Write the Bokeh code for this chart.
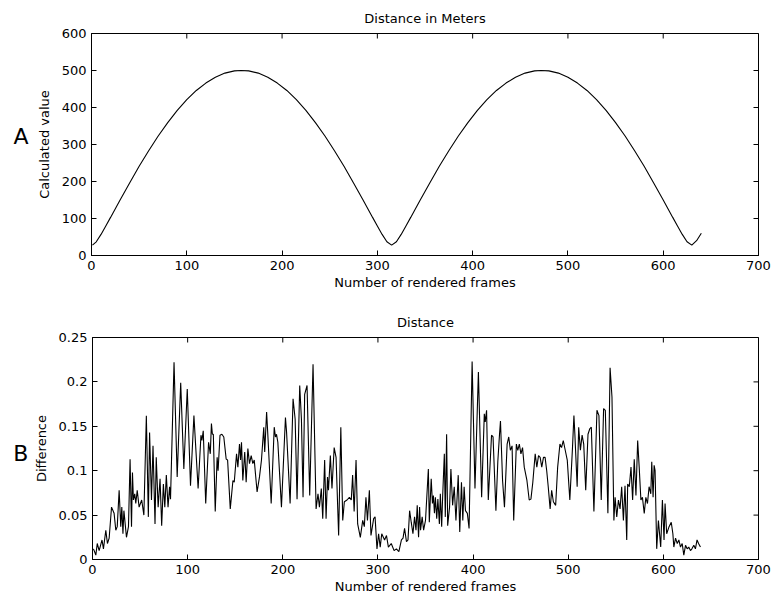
import math
from bokeh.plotting import figure
from bokeh.layouts import column, row
from bokeh.models import Range1d, FixedTicker, Label, CustomJSTickFormatter
from bokeh.embed import file_html
from bokeh.resources import INLINE

# ---- Panel A: Distance in Meters ----
dist_frames = [1, 5, 10, 15, 20, 30, 40, 50, 60, 70, 80, 90, 100, 110, 120, 130, 140, 150, 157,
               165, 175, 185, 195, 205, 215, 225, 235, 245, 255, 265, 275, 285, 295, 300, 305, 310,
               315, 320, 325, 330, 335, 345, 355, 365, 375, 385, 395, 405, 415, 425, 435, 445, 455,
               465, 472, 480, 490, 500, 510, 520, 530, 540, 550, 560, 570, 580, 590, 600, 610, 615,
               620, 625, 630, 635, 640]
dist_values = [28, 37, 57, 80, 103, 150, 196, 241, 283, 323, 359, 392, 421, 446, 466, 482, 493, 499, 500,
               499, 493, 482, 466, 446, 421, 392, 359, 323, 283, 241, 196, 150, 103, 80, 57, 37,
               28, 37, 57, 80, 103, 150, 196, 241, 283, 323, 359, 392, 421, 446, 466, 482, 493,
               499, 500, 499, 493, 482, 466, 446, 421, 392, 359, 323, 283, 241, 196, 150, 103, 80,
               57, 37, 28, 40, 60]

# ---- Panel B: Distance difference ----
diff_frames = [1, 3.5, 5, 7, 10, 11.5, 14, 15.7, 17.5, 20, 22.7, 24.5, 26, 28, 29.7, 30.8, 32, 33, 34,
               35.7, 37.8, 39.5, 41, 42, 43, 44.4, 45.5, 47, 49, 51.7, 54, 56.6, 58.7, 60, 62, 63.6,
               65.7, 67, 69, 71, 72.7, 74.5, 76, 77.6, 79.4, 81, 82, 85.7, 89, 92.7, 96, 99.6, 103,
               106.6, 111, 114, 115, 116.4, 119, 122, 123.8, 125, 126, 127, 129, 131, 132, 134, 136,
               138, 140.5, 142, 144.8, 147.6, 149, 151.4, 152.8, 154.5, 155.6, 156.6, 158, 160, 161.5,
               163.3, 165, 166.8, 168.5, 170, 173, 175.5, 177.6, 180, 181, 183, 184.6, 187.8, 191,
               192.3, 193.4, 194.8, 198.6, 202.8, 204, 207.7, 210.8, 213, 215, 217.8, 219.6, 221.3,
               223, 225.5, 228.3, 231.8, 235, 237, 238.5, 240.5, 242, 244, 245.5, 247, 248, 250,
               251.7, 254, 256, 258.7, 261, 263, 264.7, 267.5, 270, 272, 273.4, 275, 277, 278.7,
               281.5, 284, 285.7, 287.4, 289, 291, 292.7, 295.5, 297, 299, 300.7, 302.4,
               304, 307, 309, 311, 314, 317, 319.4, 322, 324.7, 326.4, 328, 330, 331.6, 333.3, 335,
               336.8, 338.5, 340, 341.3, 342.7, 343.8, 344.8, 346.5, 348, 350, 353, 354, 356, 357.3,
               358.3, 359.4, 360.4, 361.8, 363, 364.6, 365.6, 367, 368, 369.8, 370.8, 372.2, 373.3,
               375.3, 376.7, 378.5, 380.2, 382, 384.4, 386, 387.8, 389.2, 390.6, 392, 394, 395.8,
               399, 402, 405.6, 409, 411.8, 412.8, 414.2, 416, 419.4, 421, 424, 426, 427.8, 428.8,
               431, 433, 435.8, 437.5, 439.2, 441, 442.7, 445.5, 447, 448.6, 450.3, 452, 453.8,
               456.6, 459, 460.8, 462.8, 465.3, 467, 468.8, 470.5, 472.2, 474, 475.7, 477.4, 479,
               481, 482.6, 484.4, 486.8, 488.9, 491.3, 493, 494.8, 496.5, 499, 501.7, 504.5, 506,
               507, 509.4, 511, 512.8, 514.6, 516.3, 518.4, 520.8, 522.6, 524.3, 527, 530.2, 532.3,
               534.7, 537.2, 539, 541.7, 544, 546, 548, 549.3, 551, 552.8, 554.5, 556.2, 558, 559.7,
               561.5, 562.5, 564.2, 566, 567.7, 569.4, 571.2, 573, 574.6, 576.4, 578, 579.9, 581.6,
               583.3, 585, 586.8, 587.8, 589.2, 590.3, 591.3, 593, 594.8, 597.2, 599, 600.7, 601.8,
               603.5, 606, 608.3, 610, 611, 612.8, 614.6, 616.3, 618, 619.8, 621.5, 623.3, 625,
               626.7, 628.5, 630, 632, 633.7, 635.4, 637, 639]
diff_values = [0.012, 0.005, 0.018, 0.010, 0.022, 0.012, 0.033, 0.018, 0.024, 0.059, 0.052, 0.033, 0.037,
               0.078, 0.037, 0.059, 0.029, 0.055, 0.044, 0.025, 0.037, 0.113, 0.037, 0.098, 0.067,
               0.074, 0.063, 0.078, 0.059, 0.067, 0.050, 0.162, 0.048, 0.143, 0.067, 0.128, 0.040,
               0.115, 0.059, 0.091, 0.038, 0.085, 0.059, 0.095, 0.059, 0.082, 0.068, 0.222, 0.093,
               0.199, 0.102, 0.192, 0.083, 0.162, 0.080, 0.140, 0.134, 0.145, 0.063, 0.132, 0.119,
               0.153, 0.141, 0.141, 0.054, 0.115, 0.100, 0.140, 0.141, 0.138, 0.113, 0.112, 0.057,
               0.089, 0.087, 0.119, 0.104, 0.130, 0.112, 0.132, 0.089, 0.121, 0.087, 0.125, 0.108,
               0.117, 0.108, 0.112, 0.076, 0.093, 0.112, 0.149, 0.121, 0.166, 0.134, 0.063, 0.149,
               0.138, 0.141, 0.132, 0.059, 0.160, 0.143, 0.063, 0.181, 0.158, 0.068, 0.196, 0.158,
               0.070, 0.186, 0.196, 0.072, 0.220, 0.057, 0.074, 0.059, 0.080, 0.046, 0.112, 0.046,
               0.093, 0.078, 0.117, 0.080, 0.126, 0.115, 0.027, 0.149, 0.044, 0.065, 0.067, 0.070,
               0.067, 0.095, 0.054, 0.112, 0.040, 0.025, 0.044, 0.037, 0.070, 0.044, 0.078, 0.027,
               0.046, 0.048, 0.012, 0.029, 0.014,
               0.029, 0.022, 0.027, 0.014, 0.018, 0.010, 0.012, 0.009, 0.022, 0.024, 0.035, 0.020,
               0.022, 0.055, 0.042, 0.029, 0.048, 0.033, 0.061, 0.025, 0.059, 0.033, 0.048, 0.033,
               0.044, 0.102, 0.042, 0.091, 0.063, 0.072, 0.052, 0.070, 0.046, 0.068, 0.040, 0.074,
               0.037, 0.070, 0.119, 0.048, 0.141, 0.038, 0.059, 0.102, 0.061, 0.082, 0.044, 0.095,
               0.031, 0.087, 0.044, 0.082, 0.055, 0.052, 0.035, 0.223, 0.080, 0.211, 0.070, 0.164,
               0.155, 0.168, 0.067, 0.140, 0.138, 0.055, 0.110, 0.141, 0.156, 0.089, 0.059, 0.130,
               0.138, 0.123, 0.128, 0.044, 0.130, 0.123, 0.130, 0.119, 0.126, 0.104, 0.089, 0.067,
               0.068, 0.087, 0.119, 0.104, 0.117, 0.115, 0.104, 0.115, 0.115, 0.100, 0.082, 0.057,
               0.078, 0.065, 0.061, 0.104, 0.130, 0.126, 0.134, 0.125, 0.112, 0.067, 0.126, 0.162,
               0.141, 0.082, 0.149, 0.123, 0.140, 0.130, 0.078, 0.141, 0.147, 0.149, 0.054, 0.168,
               0.162, 0.067, 0.170, 0.168, 0.052, 0.216, 0.183, 0.044, 0.070, 0.048, 0.067, 0.057,
               0.082, 0.044, 0.083, 0.022, 0.085, 0.082, 0.104, 0.067, 0.113, 0.072, 0.134, 0.104,
               0.067, 0.070, 0.052, 0.070, 0.063, 0.082, 0.074, 0.110, 0.070, 0.106, 0.100, 0.012,
               0.044, 0.014, 0.067, 0.022, 0.063, 0.029, 0.037, 0.042, 0.029, 0.014, 0.024, 0.018,
               0.022, 0.014, 0.018, 0.005, 0.016, 0.012, 0.014, 0.010, 0.012, 0.016, 0.012, 0.022,
               0.018, 0.014]

x_ticks = [0, 100, 200, 300, 400, 500, 600, 700]
a_ticks = [0, 100, 200, 300, 400, 500, 600]
b_ticks = [0, 0.05, 0.1, 0.15, 0.2, 0.25]

FONT = "DejaVu Sans"
FS = "13px"
LEFT_W = 30


def style_axis(ax):
    ax.axis_line_color = "black"
    ax.axis_line_width = 1
    ax.major_tick_in = 5
    ax.major_tick_out = 0
    ax.minor_tick_in = 0
    ax.minor_tick_out = 0
    ax.major_tick_line_color = "black"
    ax.major_label_text_font = FONT
    ax.major_label_text_font_size = FS
    ax.major_label_text_color = "black"
    ax.major_label_standoff = 5
    ax.axis_label_text_font = FONT
    ax.axis_label_text_font_size = FS
    ax.axis_label_text_font_style = "normal"
    ax.axis_label_text_color = "black"


def letter_fig(letter, height, ypos):
    f = figure(width=LEFT_W, height=height, output_backend="svg", toolbar_location=None,
               x_range=Range1d(0, 1), y_range=Range1d(0, 1), min_border=0,
               min_border_left=0, min_border_right=0, min_border_top=0, min_border_bottom=0,
               background_fill_color="white", border_fill_color="white")
    f.axis.visible = False
    f.grid.visible = False
    f.outline_line_color = None
    f.add_layout(Label(x=0.68, y=ypos, text=letter, text_font=FONT, text_font_size="22px",
                       text_align="center", text_baseline="middle", text_color="black"))
    return f


def make_panel(title, ylabel, xs, ys, yr, yticks, height, top, bottom, fmt=None):
    p = figure(width=773 - LEFT_W, height=height, output_backend="svg", toolbar_location=None,
               x_range=Range1d(0, 700), y_range=Range1d(*yr),
               min_border_left=91 - LEFT_W, min_border_right=15, min_border_top=top,
               min_border_bottom=bottom, background_fill_color="white",
               border_fill_color="white", title=title)
    p.title.align = "center"
    p.title.text_font = FONT
    p.title.text_font_size = FS
    p.title.text_font_style = "normal"
    p.title.text_color = "black"
    p.title.standoff = 16
    p.grid.visible = False
    p.outline_line_color = "black"
    p.outline_line_width = 1

    p.xaxis.ticker = FixedTicker(ticks=x_ticks)
    p.yaxis.ticker = FixedTicker(ticks=yticks)
    p.xaxis.axis_label = "Number of rendered frames"
    p.yaxis.axis_label = ylabel
    style_axis(p.xaxis[0])
    style_axis(p.yaxis[0])
    p.xaxis.axis_label_standoff = 2
    p.yaxis.axis_label_standoff = 7
    if fmt is not None:
        p.yaxis.formatter = fmt

    # inward ticks on the top and right edges of the box (half of each dash is clipped)
    p.scatter(x=x_ticks, y=[yr[1]] * len(x_ticks), marker="dash", angle=math.pi / 2,
              size=10, line_color="black", line_width=1)
    p.scatter(x=[700] * len(yticks), y=yticks, marker="dash", size=10,
              line_color="black", line_width=1)

    p.line(xs, ys, line_color="black", line_width=1.1)
    return p


fmt_b = CustomJSTickFormatter(code="return String(+tick.toFixed(4));")

p1 = make_panel("Distance in Meters", "Calculated value", dist_frames, dist_values, (0, 600),
                a_ticks, 300, 33, 45)
p2 = make_panel("Distance", "Difference", diff_frames, diff_values, (0, 0.25),
                b_ticks, 303, 37, 44, fmt=fmt_b)
la = letter_fig("A", 300, 0.537)
lb = letter_fig("B", 303, 0.478)

layout = column(row(la, p1, spacing=0), row(lb, p2, spacing=0), spacing=0)
open("out.html", "w").write(file_html(layout, INLINE))
